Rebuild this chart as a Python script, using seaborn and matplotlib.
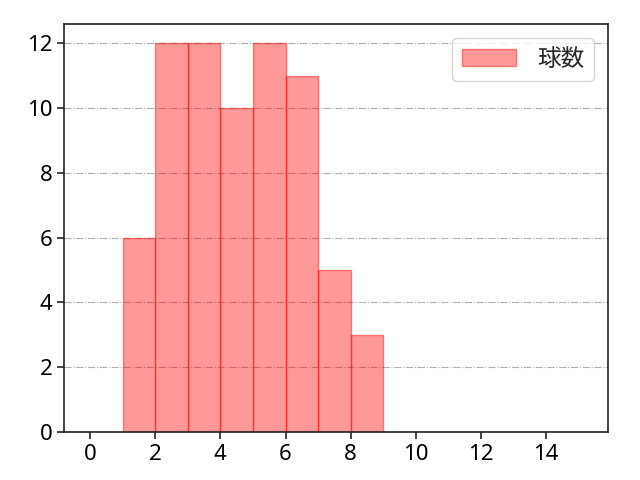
import numpy as np
import pandas as pd
import matplotlib
matplotlib.use("Agg")
import matplotlib.pyplot as plt
import seaborn as sns

# pitch count histogram: bins of width 1
bin_left = [1, 2, 3, 4, 5, 6, 7, 8]
counts = [6, 12, 12, 10, 12, 11, 5, 3]
bin_edges = list(range(1, 10))
label = "球数"

sns.set_style("ticks")
plt.rcParams['font.family'] = ['Noto Sans', 'Noto Sans CJK JP', 'DejaVu Sans']
plt.rcParams['font.size'] = 16

df = pd.DataFrame({'pitch': bin_left, 'n': counts})

fig = plt.figure(figsize=(6.4, 4.8), dpi=100)
ax = fig.add_subplot(111)
fig.subplots_adjust(left=0.1, right=0.95, bottom=0.1, top=0.95)

sns.histplot(data=df, x='pitch', weights='n', bins=bin_edges, ax=ax,
             color='red', alpha=0.4, edgecolor=(1, 0, 0, 0.45), linewidth=1,
             label=label)
for p in ax.patches:
    p.set_edgecolor((1, 0, 0, 0.45))

ax.set_xlim(-0.8, 15.9)
ax.set_ylim(0, 12.6)
ax.set_xticks(range(0, 16, 2))
ax.set_yticks(range(0, 13, 2))
ax.set_xlabel('')
ax.set_ylabel('')
ax.grid(axis='y', linestyle='-.', color='#b0b0b0', linewidth=0.8)
for s in ax.spines.values():
    s.set_color('#222222')
    s.set_linewidth(1.2)
ax.tick_params(labelsize=16, labelcolor='black', color='#222222', width=1.2, length=5)
ax.legend(loc='upper right', fontsize=17, handlelength=2.3, handletextpad=0.9,
          borderaxespad=0.6)

fig.savefig('out.png', dpi=100)
